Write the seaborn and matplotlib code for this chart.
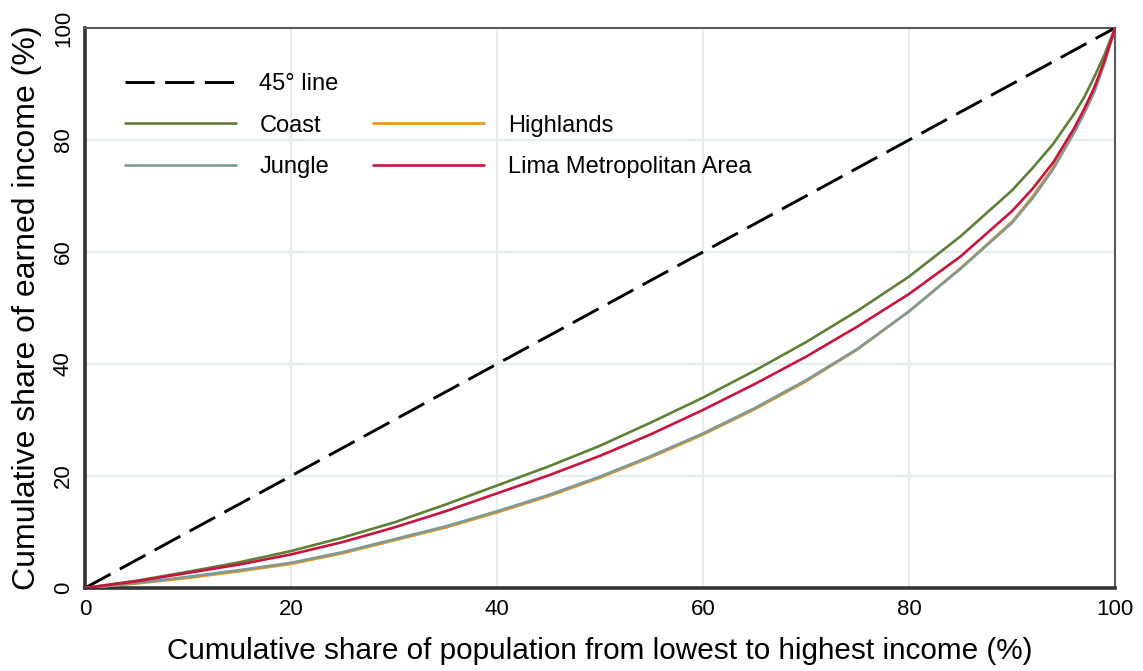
import matplotlib
matplotlib.use("Agg")
import matplotlib.pyplot as plt
from matplotlib.lines import Line2D
import seaborn as sns
import pandas as pd

# ---- data ----
pop_share = [0, 5, 10, 15, 20, 25, 30, 35, 40, 45, 50, 55, 60, 65, 70, 75,
             80, 85, 90, 92, 94, 96, 97, 98, 99, 100]
coast     = [0, 1.3, 2.9, 4.6, 6.6, 9.0, 11.7, 14.9, 18.3, 21.7, 25.4, 29.6, 34.0,
             38.8, 43.9, 49.5, 55.6, 62.8, 71.0, 75.0, 79.3, 84.6, 87.6, 91.3, 95.3, 100]
highlands = [0, 0.8, 1.8, 3.0, 4.3, 6.2, 8.5, 10.8, 13.5, 16.4, 19.7, 23.4, 27.4,
             31.9, 36.9, 42.6, 49.4, 57.1, 65.4, 69.9, 75.1, 81.5, 85.0, 88.9, 94.0, 100]
jungle    = [0, 0.9, 2.0, 3.2, 4.5, 6.4, 8.7, 11.0, 13.7, 16.6, 19.9, 23.6, 27.6,
             32.1, 37.1, 42.7, 49.4, 57.0, 65.2, 69.6, 74.8, 81.2, 84.7, 88.6, 93.8, 100]
lima      = [0, 1.2, 2.7, 4.2, 6.0, 8.2, 10.8, 13.7, 16.9, 20.1, 23.6, 27.5, 31.8,
             36.4, 41.3, 46.7, 52.5, 59.2, 67.3, 71.3, 76.0, 82.0, 85.5, 89.4, 94.3, 100]
regions = ["Coast", "Highlands", "Jungle", "Lima Metropolitan Area"]
equality = [0, 100]
ticks = [0, 20, 40, 60, 80, 100]

colors = {"Coast": "#5e8036", "Highlands": "#f39019",
          "Jungle": "#7d9b94", "Lima Metropolitan Area": "#c8143c"}

df = pd.DataFrame({
    "x": pop_share * 4,
    "y": coast + highlands + jungle + lima,
    "region": sum([[r] * len(pop_share) for r in regions], []),
})

sns.set_theme(style="white")
plt.rcParams["font.family"] = ["Liberation Sans", "DejaVu Sans"]

fig = plt.figure(figsize=(11.43, 6.71), dpi=100)
ax = fig.add_axes([85 / 1143, 1 - 588 / 671, 1030 / 1143, 560 / 671])

LW = 1.9
DASH = (11, 4)
ax.plot(equality, equality, color="black", lw=2.1, dashes=(10, 3.6), zorder=3)
sns.lineplot(data=df, x="x", y="y", hue="region", palette=colors,
             hue_order=regions, lw=LW, ax=ax, legend=False, zorder=4)

ax.set_xlim(0, 100)
ax.set_ylim(0, 100)
ax.set_xticks(ticks)
ax.set_yticks(ticks)
ax.grid(True, color="#e4eef0", lw=1.5)
ax.set_axisbelow(True)
for s in ax.spines.values():
    s.set_visible(True)
    s.set_color("#5a5a5a")
    s.set_linewidth(1.5)
for side in ("left", "bottom"):
    ax.spines[side].set_linewidth(2.6)
    ax.spines[side].set_color("#333333")

ax.tick_params(axis="both", labelsize=16, colors="black", length=0, pad=8)
for lab in ax.get_yticklabels():
    lab.set_rotation(90)
    lab.set_va("center")
ax.set_xlabel("Cumulative share of population from lowest to highest income (%)",
              fontsize=21.4, labelpad=12, color="black")
ax.set_ylabel("Cumulative share of earned income (%)", fontsize=23,
              labelpad=8, color="black")

handles = [
    Line2D([], [], color="black", lw=2.1, dashes=(10, 3.6)),
    Line2D([], [], color=colors["Coast"], lw=LW),
    Line2D([], [], color=colors["Jungle"], lw=LW),
    Line2D([], [], color="none"),
    Line2D([], [], color=colors["Highlands"], lw=LW),
    Line2D([], [], color=colors["Lima Metropolitan Area"], lw=LW),
]
labels = ["45° line", "Coast", "Jungle", "", "Highlands", "Lima Metropolitan Area"]
leg = ax.legend(handles, labels, ncol=2, frameon=False, fontsize=17,
                loc="upper left", bbox_to_anchor=(0.018, 0.957),
                handlelength=4.7, handletextpad=1.0, columnspacing=1.46,
                labelspacing=0.82)
for t in leg.get_texts():
    t.set_color("black")

fig.savefig("out.png", dpi=100)
